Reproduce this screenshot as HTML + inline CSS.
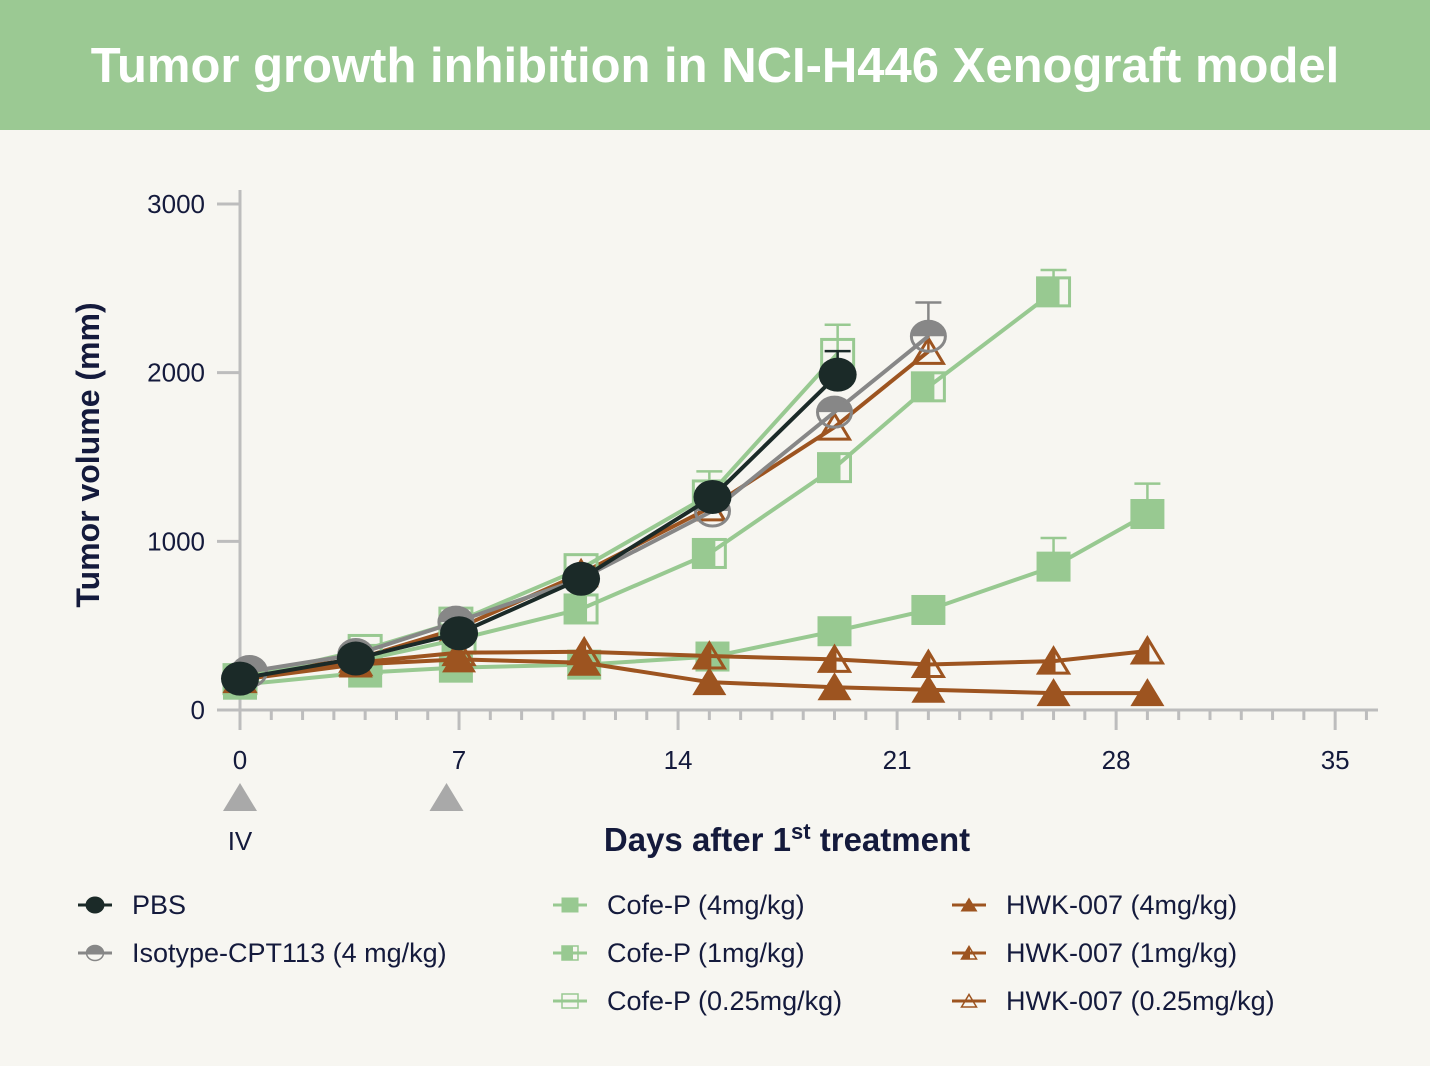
<!DOCTYPE html>
<html><head><meta charset="utf-8"><style>
body{margin:0;background:#f7f6f1;font-family:"Liberation Sans",sans-serif;}
#wrap{position:relative;width:1430px;height:1066px;overflow:hidden;background:#f7f6f1;}
#hdr{position:absolute;left:0;top:0;width:1430px;height:130px;background:#9bc993;color:#fff;font-weight:bold;font-size:49px;text-align:center;line-height:132px;}
</style></head><body>
<div id="wrap">
<div id="hdr">Tumor growth inhibition in NCI-H446 Xenograft model</div>
<svg id="svg" width="1430" height="1066" style="position:absolute;left:0;top:0"></svg>
</div>
<script>
const xTicks=[0,7,14,21,28,35];
const yTicks=[0,1000,2000,3000];
const pbsDays=[0,3.7,7,10.9,15.1,19.1];
const pbsVals=[186,305,455,778,1263,1988];
const pbsErr=[0,0,0,0,0,140];
const isoDays=[0.3,3.7,6.9,10.9,15.1,19,22];
const isoVals=[228,329,521,778,1180,1766,2216];
const isoErr=[0,0,0,0,0,0,200];
const cofe025Days=[0,4,6.9,10.9,15,19.1];
const cofe025Vals=[186,359,521,838,1275,2114];
const cofe025Err=[0,0,0,0,140,170];
const cofe1Days=[0,4,7,10.9,15,19,22,26,29];
const cofe1Vals=[180,300,420,599,928,1437,1916,2479,0];
const cofe1Err=[0,0,0,0,0,0,0,130,0];
const cofe4Days=[0,4,6.9,11,15.1,19,22,26,29];
const cofe4Vals=[150,222,251,269,317,467,593,850,1162];
const cofe4Err=[0,0,0,0,0,0,0,170,180];
const hwk4Days=[0,3.7,7,8.3,11,15,19,22,26,29];
const hwk4Vals=[180,270,300,310,280,165,135,120,100,100];
const hwk1Days=[0,3.7,7,11,15,19,22,26,29];
const hwk1Vals=[180,280,340,345,320,300,270,290,350];
const hwk025Days=[0,3.7,6.9,10.9,15,19,22];
const hwk025Vals=[210,300,480,808,1198,1677,2126];
const hwk025Err=[0,0,0,0,0,0,130];

const svg=document.getElementById('svg');
const NS='http://www.w3.org/2000/svg';
const X=d=>240+d*31.29;
const Y=v=>710-v*0.16867;
function mk(tag,at,parent){const e=document.createElementNS(NS,tag);for(const k in at)e.setAttribute(k,at[k]);(parent||svg).appendChild(e);return e;}
const navy='#141a3c',axis='#bdbdbd';
let g=mk('g',{});


mk('line',{x1:240,y1:190,x2:240,y2:712,stroke:axis,'stroke-width':3},g);
yTicks.forEach(v=>{mk('line',{x1:217,x2:240,y1:Y(v),y2:Y(v),stroke:axis,'stroke-width':3},g);
 const t=mk('text',{x:205,y:Y(v)+9,'text-anchor':'end','font-size':26,fill:navy},g);t.textContent=v;});
const yt=mk('text',{x:99,y:455,'text-anchor':'middle','font-size':32,'font-weight':'bold',fill:navy,transform:'rotate(-90 99 455)'});


yt.textContent='Tumor volume (mm)';
let gx=mk('g',{});


mk('line',{x1:240,y1:710,x2:1378,y2:710,stroke:axis,'stroke-width':3},gx);
for(let d=0;d<=36;d++){const maj=d%7==0;mk('line',{x1:X(d),x2:X(d),y1:710,y2:maj?730:720,stroke:axis,'stroke-width':3},gx);}
xTicks.forEach(d=>{const t=mk('text',{x:X(d),y:769,'text-anchor':'middle','font-size':26,fill:navy},gx);t.textContent=d;});
[0,6.6].forEach(d=>{const p=mk('polygon',{points:`${X(d)-17},811 ${X(d)+17},811 ${X(d)},783`,fill:'#a9a9a9'});
 
 });
let iv=mk('text',{x:240,y:850,'text-anchor':'middle','font-size':26,fill:navy});iv.textContent='IV';


let xt=mk('text',{x:787,y:851,'text-anchor':'middle','font-size':33,'font-weight':'bold',fill:navy});
xt.innerHTML='Days after 1<tspan dy="-12" font-size="22">st</tspan><tspan dy="12"> treatment</tspan>';



const green='#98c991',brown='#9d5420',gray='#878787',dark='#1b2a28';
function marker(type,cx,cy,col,s,parent){
 s=s||1;
 if(type==='circle'){mk('ellipse',{cx,cy,rx:19*s,ry:17*s,fill:col},parent);}
 else if(type==='halfcircle'){mk('path',{d:`M${cx-17*s},${cy} A${17*s},${15*s} 0 0 1 ${cx+17*s},${cy} Z`,fill:col},parent);mk('ellipse',{cx,cy,rx:17*s,ry:15*s,fill:'none',stroke:col,'stroke-width':3*s},parent);}
 else if(type==='square'){mk('rect',{x:cx-17*s,y:cy-15*s,width:34*s,height:30*s,fill:col},parent);}
 else if(type==='halfsquare'){mk('rect',{x:cx-16*s,y:cy-14*s,width:32*s,height:28*s,fill:'none',stroke:col,'stroke-width':3*s},parent);mk('rect',{x:cx-16*s,y:cy-14*s,width:22*s,height:28*s,fill:col},parent);}
 else if(type==='opensquare'){mk('rect',{x:cx-16*s,y:cy-14*s,width:32*s,height:28*s,fill:'none',stroke:col,'stroke-width':3*s},parent);}
 else if(type==='tri'){mk('polygon',{points:`${cx-17*s},${cy+13*s} ${cx+17*s},${cy+13*s} ${cx},${cy-15*s}`,fill:col},parent);}
 else if(type==='halftri'){mk('polygon',{points:`${cx-15*s},${cy+12*s} ${cx+15*s},${cy+12*s} ${cx},${cy-13*s}`,fill:'none',stroke:col,'stroke-width':3*s},parent);mk('polygon',{points:`${cx-15*s},${cy+12*s} ${cx+2*s},${cy+12*s} ${cx+2*s},${cy-10*s} ${cx},${cy-13*s}`,fill:col},parent);}
 else if(type==='opentri'){mk('polygon',{points:`${cx-15*s},${cy+12*s} ${cx+15*s},${cy+12*s} ${cx},${cy-13*s}`,fill:'none',stroke:col,'stroke-width':3*s},parent);}
}
function series(name,days,vals,errs,col,type){
 const gg=mk('g',{});
 
 
 const pts=[];days.forEach((d,i)=>{if(vals[i]>0)pts.push([X(d),Y(vals[i]),errs?errs[i]:0]);});
 mk('polyline',{points:pts.map(p=>p[0]+','+p[1]).join(' '),fill:'none',stroke:col,'stroke-width':4},gg);
 pts.forEach(p=>{if(p[2]>0){const top=p[1]-p[2]*0.16867;mk('line',{x1:p[0],x2:p[0],y1:p[1],y2:top,stroke:col,'stroke-width':2.5},gg);mk('line',{x1:p[0]-13,x2:p[0]+13,y1:top,y2:top,stroke:col,'stroke-width':2.5},gg);}
  marker(type,p[0],p[1],col,1,gg);});
}
series('series-hwk-025',hwk025Days,hwk025Vals,hwk025Err,brown,'opentri');
series('series-cofe-1',cofe1Days,cofe1Vals,cofe1Err,green,'halfsquare');
series('series-cofe-025',cofe025Days,cofe025Vals,cofe025Err,green,'opensquare');
series('series-cofe-4',cofe4Days,cofe4Vals,cofe4Err,green,'square');
series('series-hwk-1',hwk1Days,hwk1Vals,null,brown,'halftri');
series('series-hwk-4',hwk4Days.filter((d,i)=>i!==3),hwk4Vals.filter((d,i)=>i!==3),null,brown,'tri');
series('series-isotype',isoDays,isoVals,isoErr,gray,'halfcircle');
series('series-pbs',pbsDays,pbsVals,pbsErr,dark,'circle');

const legend=[['PBS',dark,'circle',78,905],['Isotype-CPT113 (4 mg/kg)',gray,'halfcircle',78,953],
 ['Cofe-P (4mg/kg)',green,'square',553,905],['Cofe-P  (1mg/kg)',green,'halfsquare',553,953],['Cofe-P (0.25mg/kg)',green,'opensquare',553,1001],
 ['HWK-007 (4mg/kg)',brown,'tri',952,905],['HWK-007 (1mg/kg)',brown,'halftri',952,953],['HWK-007 (0.25mg/kg)',brown,'opentri',952,1001]];
legend.forEach(l=>{
 const gg=mk('g',{});
 
 
 mk('line',{x1:l[3],x2:l[3]+34,y1:l[4],y2:l[4],stroke:l[1],'stroke-width':3},gg);
 marker(l[2],l[3]+17,l[4],l[1],0.5,gg);
 const t=mk('text',{x:l[3]+54,y:l[4]+9,'font-size':27,fill:navy},gg);t.setAttribute('xml:space','preserve');t.textContent=l[0];
});
</script>
</body></html>
